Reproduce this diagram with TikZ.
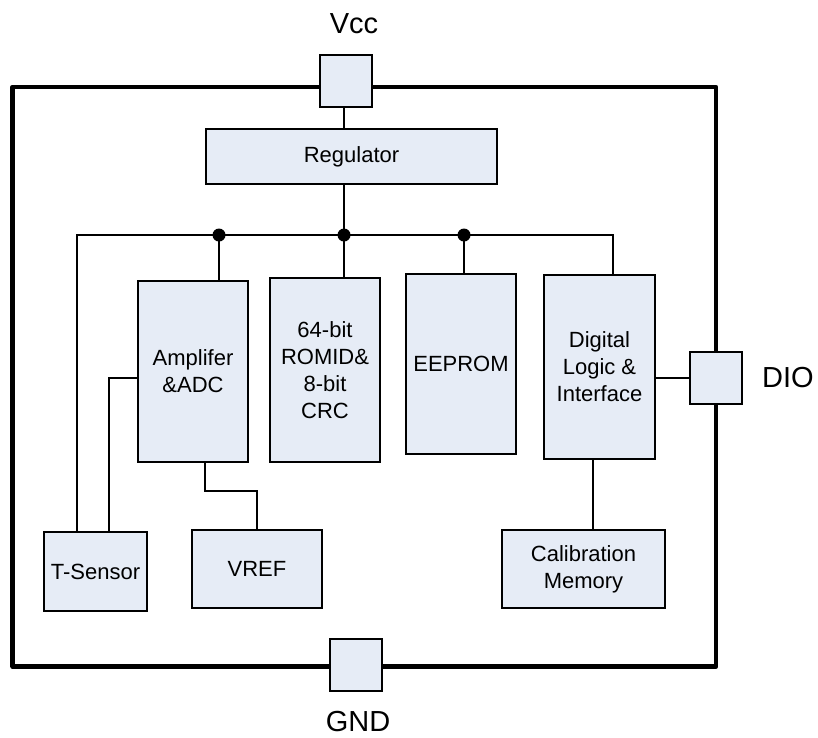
\documentclass[tikz,border=0pt]{standalone}
\usepackage{fontspec}
\setmainfont{Liberation Sans}
\definecolor{blockfill}{RGB}{230,236,246}
\tikzset{
  blk/.style={draw=black, fill=blockfill, line width=2pt, inner sep=0pt,
    align=center, font=\fontsize{22}{27}\selectfont},
  pinbox/.style={draw=black, fill=blockfill, line width=2pt, inner sep=0pt,
    minimum width=52pt, minimum height=52pt},
  chipbox/.style={draw=black, line width=4.5pt, inner sep=0pt, line join=round},
  wire/.style={draw=black, line width=2pt},
  junc/.style={circle, fill=black, inner sep=0pt, minimum size=13pt},
  pinlabel/.style={font=\fontsize{29}{34}\selectfont, inner sep=0pt}
}
\begin{document}
\begin{tikzpicture}[x=1pt, y=-1pt]
  \useasboundingbox (0,0) rectangle (818,737);

  % package outline
  \node[chipbox, minimum width=703.3pt, minimum height=579.5pt] (chip) at (364.35,376.75) {};

  % function blocks
  \node[blk, minimum width=291pt, minimum height=55pt] (reg) at (351.5,156.5) {Regulator};
  \node[blk, minimum width=110pt, minimum height=181pt] (amp) at (193,371.5) {Amplifer\\\&ADC};
  \node[blk, minimum width=110pt, minimum height=184pt] (rom) at (325,370) {64-bit\\ROMID\&\\8-bit\\CRC};
  \node[blk, minimum width=110pt, minimum height=180pt] (ee) at (461,364) {EEPROM};
  \node[blk, minimum width=111pt, minimum height=184pt] (dig) at (599.5,367) {Digital\\Logic \&\\Interface};
  \node[blk, minimum width=103pt, minimum height=79pt] (ts) at (95.5,571.5) {T-Sensor};
  \node[blk, minimum width=130pt, minimum height=78pt] (vref) at (257,569) {VREF};
  \node[blk, minimum width=163pt, minimum height=78pt] (cal) at (583.5,569) {Calibration\\Memory};

  % pins
  \node[pinbox] (vcc) at (346,80.5) {};
  \node[pinbox] (dio) at (715.5,377.5) {};
  \node[pinbox] (gnd) at (356,665) {};
  \node[pinlabel] (vcclbl) at (354,24) {Vcc};
  \node[pinlabel, anchor=west] (diolbl) at (762,378) {DIO};
  \node[pinlabel] (gndlbl) at (358,722) {GND};

  % supply bus
  \coordinate (busL) at (77,235);
  \coordinate (busR) at (613,235);
  \coordinate (j1) at (219,235);
  \coordinate (j2) at (344,235);
  \coordinate (j3) at (464,235);
  \draw[wire] (j2 |- vcc.south) -- (j2 |- reg.north);
  \draw[wire] (j2 |- reg.south) -- (j2);
  \draw[wire] (busL |- ts.north) -- (busL) -- (busR) -- (busR |- dig.north);
  \draw[wire] (j1) -- (j1 |- amp.north);
  \draw[wire] (j2) -- (j2 |- rom.north);
  \draw[wire] (j3) -- (j3 |- ee.north);
  \node[junc] (d1) at (j1) {};
  \node[junc] (d2) at (j2) {};
  \node[junc] (d3) at (j3) {};

  % sensor to amplifier
  \coordinate (ta) at (109,378);
  \draw[wire] (ta |- ts.north) -- (ta) -- (ta -| amp.west);

  % amplifier to reference
  \coordinate (av1) at (205,491);
  \coordinate (av2) at (257,491);
  \draw[wire] (av1 |- amp.south) -- (av1) -- (av2) -- (av2 |- vref.north);

  % logic to data pin and calibration memory
  \coordinate (dd) at (655,378);
  \draw[wire] (dd -| dig.east) -- (dd -| dio.west);
  \coordinate (dc) at (593,500);
  \draw[wire] (dc |- dig.south) -- (dc |- cal.north);
\end{tikzpicture}
\end{document}
